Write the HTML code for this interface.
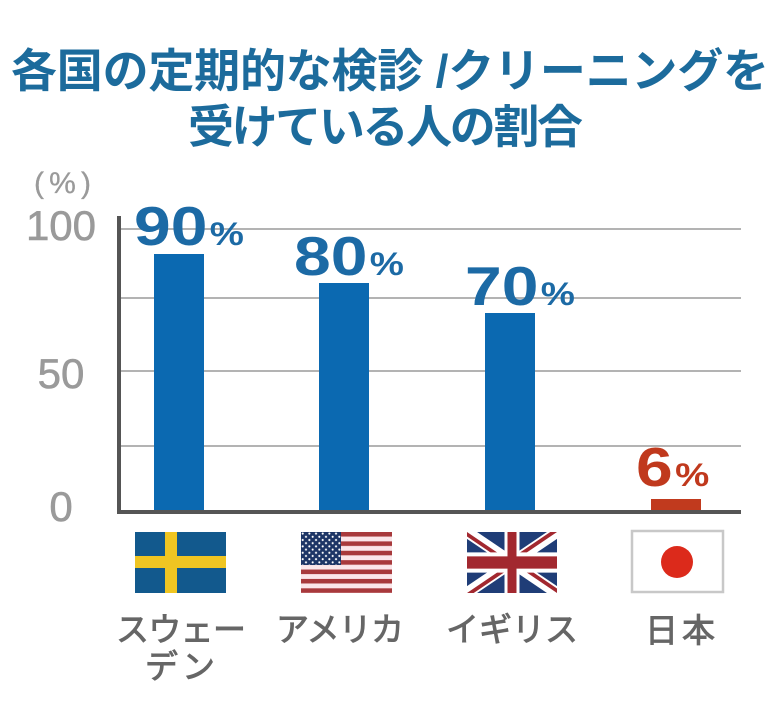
<!DOCTYPE html>
<html><head><meta charset="utf-8"><style>
html,body{margin:0;padding:0;background:#fff;}
svg{display:block;}
</style></head><body>
<svg width="784" height="728" viewBox="0 0 784 728" xmlns="http://www.w3.org/2000/svg">
<defs>
<pattern id="stripes" patternUnits="userSpaceOnUse" x="301" y="532" width="91" height="9.385">
<rect x="0" y="0" width="91" height="4.69" fill="#a8393c"/>
<rect x="0" y="4.69" width="91" height="4.695" fill="#fbe6ea"/>
</pattern>
<pattern id="stars" patternUnits="userSpaceOnUse" x="301" y="532" width="6.667" height="6.4">
<rect width="6.667" height="6.4" fill="#1d3566"/>
<circle cx="1.7" cy="1.6" r="1.05" fill="#fff"/>
<circle cx="5.0" cy="4.8" r="1.05" fill="#fff"/>
</pattern>
<clipPath id="uks"><path d="M0,0 v30 h60 v-30 z"/></clipPath>
<clipPath id="ukt"><path d="M30,15 h30 v15 z v15 h-30 z h-30 v-15 z v-15 h30 z"/></clipPath>
</defs>

<!-- Title -->
<g font-family="'Liberation Sans','Noto Sans CJK JP',sans-serif" font-weight="bold" fill="#1c6b9c" font-size="46">
<text x="11" y="87" textLength="758" lengthAdjust="spacing">各国の定期的な検診 /クリーニングを</text>
<text x="188" y="143" textLength="395" lengthAdjust="spacing">受けている人の割合</text>
</g>

<!-- y labels -->
<g font-family="'Liberation Sans',sans-serif" fill="#9a9a9a" stroke="#9a9a9a" stroke-width="0.6">
<text x="34" y="193" font-size="30" textLength="57" lengthAdjust="spacing" stroke-width="0.3">(%)</text>
<text x="61" y="240" font-size="42" text-anchor="middle">100</text>
<text x="61" y="388" font-size="42" text-anchor="middle">50</text>
<text x="61" y="521" font-size="42" text-anchor="middle">0</text>
</g>

<!-- gridlines -->
<g stroke="#b3b3b3" stroke-width="2">
<line x1="121" y1="229" x2="741" y2="229"/>
<line x1="121" y1="298" x2="741" y2="298"/>
<line x1="121" y1="371" x2="741" y2="371"/>
<line x1="121" y1="446" x2="741" y2="446"/>
</g>

<!-- bars -->
<rect x="154" y="254" width="50" height="258" fill="#0b69b1"/>
<rect x="319" y="283" width="50" height="229" fill="#0b69b1"/>
<rect x="485" y="313" width="50" height="199" fill="#0b69b1"/>
<rect x="651" y="499" width="50" height="13" fill="#c13a1e"/>

<!-- axes -->
<rect x="117" y="216" width="4" height="298" fill="#555"/>
<rect x="117" y="510" width="624" height="4" fill="#555"/>

<!-- value labels -->
<g font-family="'Liberation Sans',sans-serif" font-weight="bold" fill="#1c6aa5">
<text transform="translate(134,245) scale(1.2,1)"><tspan font-size="55">90</tspan><tspan font-size="32" dx="2">%</tspan></text>
<text transform="translate(294,275) scale(1.2,1)"><tspan font-size="55">80</tspan><tspan font-size="32" dx="2">%</tspan></text>
<text transform="translate(465,305) scale(1.2,1)"><tspan font-size="55">70</tspan><tspan font-size="32" dx="2">%</tspan></text>
</g>
<text transform="translate(636,486) scale(1.2,1)" font-family="'Liberation Sans',sans-serif" font-weight="bold" fill="#c0391d"><tspan font-size="55">6</tspan><tspan font-size="32" dx="2">%</tspan></text>

<!-- Sweden flag -->
<rect x="135" y="532" width="91" height="61" fill="#12598d"/>
<rect x="165" y="532" width="12" height="61" fill="#efc522"/>
<rect x="135" y="556" width="91" height="12" fill="#efc522"/>

<!-- US flag -->
<rect x="301" y="532" width="91" height="61" fill="url(#stripes)"/>
<rect x="301" y="532" width="40" height="33" fill="url(#stars)"/>

<!-- UK flag -->
<svg x="467" y="532" width="90" height="61" viewBox="0 0 60 30" preserveAspectRatio="none">
<g clip-path="url(#uks)">
<path d="M0,0 v30 h60 v-30 z" fill="#1f3d77"/>
<path d="M0,0 L60,30 M60,0 L0,30" stroke="#fff" stroke-width="6"/>
<path d="M0,0 L60,30 M60,0 L0,30" clip-path="url(#ukt)" stroke="#a2282f" stroke-width="4"/>
<path d="M30,0 v30 M0,15 h60" stroke="#fff" stroke-width="10"/>
<path d="M30,0 v30 M0,15 h60" stroke="#a2282f" stroke-width="6"/>
</g>
</svg>

<!-- Japan flag -->
<rect x="632" y="531" width="91" height="61" fill="#fff" stroke="#c8c8c8" stroke-width="2.5"/>
<circle cx="677" cy="562" r="16" fill="#dc2a1b"/>

<!-- country labels -->
<g font-family="'Liberation Sans','Noto Sans CJK JP',sans-serif" fill="#666" stroke="#666" stroke-width="0.9" font-size="33">
<text x="116" y="641" textLength="130" lengthAdjust="spacing">スウェー</text>
<text x="145" y="678" textLength="70" lengthAdjust="spacing">デン</text>
<text x="276" y="641" textLength="128" lengthAdjust="spacing">アメリカ</text>
<text x="446" y="641" textLength="132" lengthAdjust="spacing">イギリス</text>
<text x="645" y="642" textLength="70" lengthAdjust="spacing">日本</text>
</g>
</svg>
</body></html>
